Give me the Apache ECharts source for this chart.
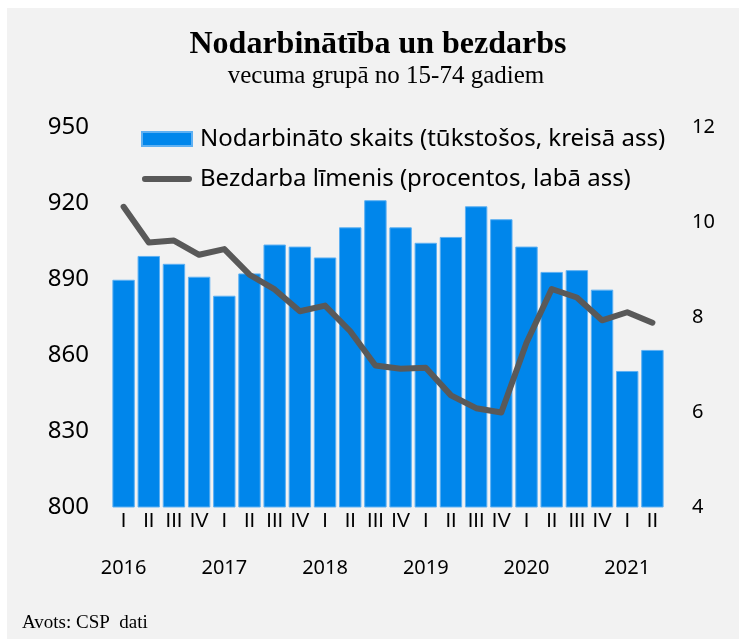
<!DOCTYPE html>
<html>
<head>
<meta charset="utf-8">
<script src="https://cdn.jsdelivr.net/npm/echarts@6/dist/echarts.min.js"></script>
<style>
html,body{margin:0;padding:0;background:#ffffff;}
#chart{width:739px;height:643px;}
</style>
</head>
<body>
<div id="chart"></div>
<script>
// Data
const quarterLabels = ['I','II','III','IV','I','II','III','IV','I','II','III','IV','I','II','III','IV','I','II','III','IV','I','II'];
const yearLabels = ['2016','','','','2017','','','','2018','','','','2019','','','','2020','','','','2021',''];
const employed = [889.7, 899.1, 896.0, 890.9, 883.4, 892.2, 903.6, 902.8, 898.5, 910.4, 921.1, 910.4, 904.3, 906.6, 918.7, 913.6, 902.8, 892.8, 893.5, 885.8, 853.7, 862.0];
const unemployment = [10.32, 9.57, 9.61, 9.31, 9.43, 8.89, 8.58, 8.12, 8.24, 7.70, 6.98, 6.91, 6.93, 6.35, 6.08, 5.99, 7.46, 8.59, 8.41, 7.93, 8.10, 7.88];
const leftTicks = {min: 800, max: 950, interval: 30};
const rightTicks = {min: 4, max: 12, interval: 2};
const seriesNames = ['Nodarbināto skaits (tūkstošos, kreisā ass)', 'Bezdarba līmenis (procentos, labā ass)'];

const categories = quarterLabels.map((q, i) => q + '-' + i);

const chart = echarts.init(document.getElementById('chart'), null, {renderer: 'canvas'});
const sans = 'Noto Sans';
const serif = 'Liberation Serif';

chart.setOption({
  backgroundColor: '#ffffff',
  animation: false,
  graphic: [{
    type: 'rect', z: -10, silent: true,
    shape: {x: 7, y: 8, width: 732, height: 631},
    style: {fill: '#f2f2f2'}
  }],
  title: [
    {text: 'Nodarbinātība un bezdarbs', left: 378, top: 45, padding: 0, textAlign: 'center', textVerticalAlign: 'middle',
     textStyle: {fontFamily: serif, fontWeight: 'bold', fontSize: 32, color: '#000'}},
    {text: 'vecuma grupā no 15-74 gadiem', left: 386, top: 76, padding: 0, textAlign: 'center', textVerticalAlign: 'middle',
     textStyle: {fontFamily: serif, fontWeight: 'normal', fontSize: 25, color: '#000'}},
    {text: 'Avots: CSP  dati', left: 22, top: 623, padding: 0, textAlign: 'left', textVerticalAlign: 'middle',
     textStyle: {fontFamily: serif, fontWeight: 'normal', fontSize: 19, color: '#000'}}
  ],
  legend: {
    orient: 'vertical', left: 141, top: 125, padding: 0,
    itemWidth: 50, itemHeight: 14, itemGap: 12,
    textStyle: {fontFamily: sans, fontSize: 24, color: '#000', lineHeight: 28, padding: [0,0,0,3]},
    data: [
      {name: seriesNames[0], icon: 'rect'},
      {name: seriesNames[1], icon: 'path://M3,0 L49,0 A3,3 0 0 1 49,6 L3,6 A3,3 0 0 1 3,0 Z', itemStyle: {color: '#595959'}}
    ]
  },
  grid: {left: 111, right: 74, top: 127, bottom: 136, containLabel: false},
  xAxis: [{
    type: 'category', data: categories, position: 'bottom',
    axisLine: {show: false}, axisTick: {show: false},
    axisLabel: {interval: 0, margin: 4, fontFamily: 'Liberation Sans', fontSize: 20, color: '#000',
      formatter: (v, i) => quarterLabels[i]}
  }, {
    type: 'category', data: categories, position: 'bottom',
    axisLine: {show: false}, axisTick: {show: false},
    axisLabel: {interval: 0, margin: 51, fontFamily: sans, fontSize: 20, color: '#000',
      formatter: (v, i) => yearLabels[i]}
  }],
  yAxis: [{
    type: 'value', position: 'left', min: leftTicks.min, max: leftTicks.max, interval: leftTicks.interval,
    axisLine: {show: false}, axisTick: {show: false}, splitLine: {show: false},
    axisLabel: {margin: 22, fontFamily: sans, fontSize: 24, color: '#000'}
  }, {
    type: 'value', position: 'right', min: rightTicks.min, max: rightTicks.max, interval: rightTicks.interval,
    axisLine: {show: false}, axisTick: {show: false}, splitLine: {show: false},
    axisLabel: {margin: 27, fontFamily: sans, fontSize: 20, color: '#000'}
  }],
  series: [{
    name: seriesNames[0], type: 'bar', xAxisIndex: 0, yAxisIndex: 0,
    data: employed, barCategoryGap: '11%',
    itemStyle: {color: '#0086EB', borderColor: '#5eb0f2', borderWidth: 1}
  }, {
    name: seriesNames[1], type: 'line', xAxisIndex: 0, yAxisIndex: 1,
    data: unemployment, symbol: 'none', z: 5,
    lineStyle: {color: '#595959', width: 6, cap: 'round', join: 'round'},
    itemStyle: {color: '#595959'}
  }]
});
</script>
</body>
</html>
